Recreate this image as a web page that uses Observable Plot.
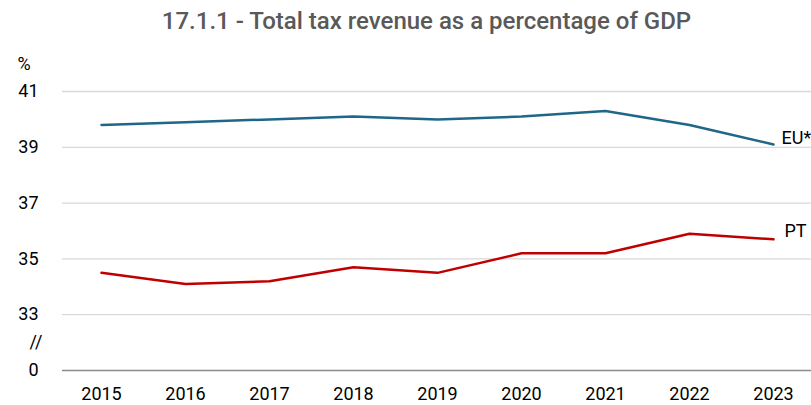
<!DOCTYPE html>
<html>
<head>
<meta charset="utf-8">
<script src="https://cdn.jsdelivr.net/npm/d3@7"></script>
<script src="https://cdn.jsdelivr.net/npm/@observablehq/plot@0.6"></script>
<style>
  body { margin: 0; background: #fff; font-family: Roboto, sans-serif; }
  #title { width: 811px; height: 45px; box-sizing: border-box; padding-left: 42px; text-align: center;
           font-size: 24px; font-weight: 500; color: #595959; line-height: 42px; white-space: nowrap; }
</style>
</head>
<body>
<div id="title">17.1.1 - Total tax revenue as a percentage of GDP</div>
<div id="chart"></div>
<script>
const years = ["2015","2016","2017","2018","2019","2020","2021","2022","2023"];
const euValues = [39.8, 39.9, 40.0, 40.1, 40.0, 40.1, 40.3, 39.8, 39.1];
const ptValues = [34.5, 34.1, 34.2, 34.7, 34.5, 35.2, 35.2, 35.9, 35.7];
const seriesNames = ["EU*", "PT"];
const seriesColors = ["#1f6688", "#c00000"];
const yTicks = [31, 33, 35, 37, 39, 41];
const yTickLabels = ["0", "33", "35", "37", "39", "41"];

const rows = [];
years.forEach((y, i) => {
  rows.push({year: y, value: euValues[i], series: seriesNames[0]});
  rows.push({year: y, value: ptValues[i], series: seriesNames[1]});
});
const lastYear = years[years.length - 1];
const lastEU = rows.filter(d => d.year === lastYear && d.series === seriesNames[0]);
const lastPT = rows.filter(d => d.year === lastYear && d.series === seriesNames[1]);

const plot = Plot.plot({
  width: 811,
  height: 360,
  marginTop: 46,
  marginBottom: 35,
  marginLeft: 62,
  marginRight: 0,
  style: {fontFamily: "Roboto, sans-serif", fontSize: "18px", color: "#000"},
  x: {type: "band", domain: years, range: [58, 815], padding: 0, label: null},
  y: {domain: [31, 41], label: null},
  color: {domain: seriesNames, range: seriesColors},
  marks: [
    Plot.ruleY(yTicks.slice(1), {stroke: "#d9d9d9", strokeWidth: 1.3}),
    Plot.ruleY([yTicks[0]], {stroke: "#8c8c8c", strokeWidth: 1.3}),
    Plot.axisY({ticks: yTicks, tickFormat: d => yTickLabels[yTicks.indexOf(d)], tickSize: 0, tickPadding: 24, fontSize: 18, label: null}),
    Plot.axisX({tickSize: 0, tickPadding: 17, fontSize: 18, label: null}),
    Plot.text(["%"], {frameAnchor: "top-left", dx: -45, dy: -34, fontSize: 18, fill: "#000"}),
    Plot.text(["//"], {y: [32], frameAnchor: "left", dx: -33, fontSize: 18, fill: "#000"}),
    Plot.line(rows, {x: "year", y: "value", z: "series", stroke: "series", strokeWidth: 2.5}),
    Plot.text(lastEU, {x: "year", y: "value", text: "series", textAnchor: "start", dx: 8, dy: -6, fontSize: 18, fill: "#000"}),
    Plot.text(lastPT, {x: "year", y: "value", text: "series", textAnchor: "start", dx: 11, dy: -8, fontSize: 18, fill: "#000"})
  ]
});
document.getElementById("chart").appendChild(plot);
</script>
</body>
</html>
